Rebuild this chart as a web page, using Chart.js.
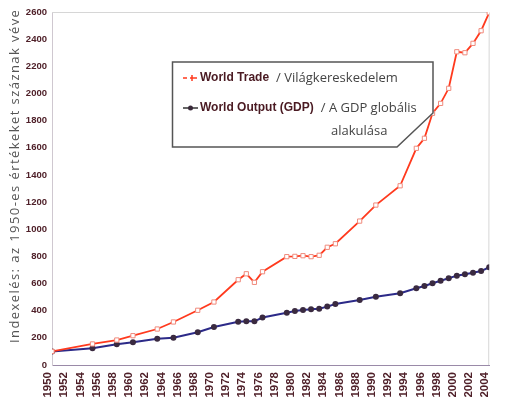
<!DOCTYPE html>
<html>
<head>
<meta charset="utf-8">
<script src="https://cdn.jsdelivr.net/npm/chart.js@4/dist/chart.umd.min.js"></script>
<style>
  html, body { margin: 0; padding: 0; background: #fff; }
  #wrap { position: relative; width: 510px; height: 407px; }
</style>
</head>
<body>
<div id="wrap"><canvas id="chart" width="510" height="407"></canvas></div>
<script>
// years that have a data point (the source skips some years)
const years = [1950, 1955, 1958, 1960, 1963, 1965, 1968, 1970, 1973, 1974, 1975, 1976,
    1979, 1980, 1981, 1982, 1983, 1984, 1985, 1988, 1990, 1993, 1995, 1996, 1997,
    1998, 1999, 2000, 2001, 2002, 2003, 2004];
const worldTrade = [100, 155, 184, 216, 265, 317, 403, 464, 628, 672, 609, 687,
    798, 800, 805, 798, 808, 867, 893, 1060, 1178, 1320, 1596, 1670, 1854,
    1927, 2038, 2307, 2300, 2369, 2462, 2595];
const worldOutput = [100, 123, 152, 167, 194, 201, 241, 280, 318, 322, 322, 350,
    385, 398, 405, 410, 415, 430, 449, 479, 503, 528, 565, 582, 602,
    621, 639, 658, 668, 680, 692, 720];

const yAxisTitle = 'Indexelés: az 1950-es értékeket száznak véve';
const legendItems = [
    { bold: 'World Trade', rest: ['/ Világkereskedelem'] },
    { bold: 'World Output (GDP)', rest: ['/ A GDP globális', 'alakulása'] }
];

const tickColor = '#4f2029';
const tradeColor = '#ff3a1e';
const outputColor = '#2c2a88';

function points(values) {
    return years.map((y, i) => ({ x: y, y: values[i] }));
}

// frame, y title and the custom legend box
const decorations = {
    id: 'decorations',
    beforeDatasetsDraw(chart) {
        const { ctx, chartArea: a } = chart;
        ctx.save();
        ctx.strokeStyle = '#d6d6d6';
        ctx.lineWidth = 1;
        ctx.beginPath();
        ctx.moveTo(a.left, a.top + 0.5);
        ctx.lineTo(a.right, a.top + 0.5);
        ctx.lineTo(a.right - 0.5, a.bottom);
        ctx.stroke();
        ctx.restore();
    },
    afterDraw(chart) {
        const ctx = chart.ctx;
        ctx.save();

        // y axis title, stretched to the length used in the source
        ctx.font = '13px "Open Sans", sans-serif';
        ctx.fillStyle = '#555';
        const w = ctx.measureText(yAxisTitle).width;
        if ('letterSpacing' in ctx) {
            ctx.letterSpacing = ((333 - w) / (yAxisTitle.length - 1)).toFixed(2) + 'px';
        }
        ctx.translate(15, 343);
        ctx.rotate(-Math.PI / 2);
        ctx.textAlign = 'left';
        ctx.textBaseline = 'middle';
        ctx.fillText(yAxisTitle, 0, 0);
        ctx.setTransform(1, 0, 0, 1, 0, 0);
        if ('letterSpacing' in ctx) ctx.letterSpacing = '0px';

        // legend box with its cut corner
        ctx.fillStyle = '#fff';
        ctx.strokeStyle = '#555';
        ctx.lineWidth = 1.5;
        ctx.beginPath();
        ctx.moveTo(172.5, 62);
        ctx.lineTo(433, 62);
        ctx.lineTo(433, 113);
        ctx.lineTo(397, 147);
        ctx.lineTo(172.5, 147);
        ctx.closePath();
        ctx.fill();
        ctx.stroke();

        // markers
        ctx.lineWidth = 1.5;
        ctx.strokeStyle = tradeColor;
        ctx.beginPath();
        ctx.moveTo(183, 78); ctx.lineTo(187, 78);
        ctx.moveTo(190, 78); ctx.lineTo(197, 78);
        ctx.moveTo(192, 75); ctx.lineTo(192, 81);
        ctx.stroke();
        ctx.strokeStyle = '#333';
        ctx.beginPath();
        ctx.moveTo(183, 108); ctx.lineTo(198, 108);
        ctx.stroke();
        ctx.fillStyle = '#3a2a3a';
        ctx.beginPath();
        ctx.arc(190.5, 108, 2.5, 0, Math.PI * 2);
        ctx.fill();

        // texts
        ctx.textBaseline = 'middle';
        ctx.textAlign = 'left';
        const rows = [78, 108];
        legendItems.forEach((item, i) => {
            ctx.font = 'bold 12px "Liberation Sans", Arial, sans-serif';
            ctx.fillStyle = '#4a1a22';
            ctx.fillText(item.bold, 200, rows[i]);
            const bw = ctx.measureText(item.bold).width;
            ctx.font = '13px "Open Sans", sans-serif';
            ctx.fillStyle = '#444';
            ctx.fillText(item.rest[0], 200 + bw + 7, rows[i]);
            if (item.rest[1]) {
                ctx.fillText(item.rest[1], 331, rows[i] + 23);
            }
        });
        ctx.restore();
    }
};

new Chart(document.getElementById('chart'), {
    type: 'line',
    data: {
        datasets: [
            {
                label: 'World Trade',
                data: points(worldTrade),
                borderColor: tradeColor,
                borderWidth: 1.8,
                pointStyle: 'rect',
                pointRadius: 3,
                pointBackgroundColor: '#fff',
                pointBorderColor: '#f08a7c',
                pointBorderWidth: 1,
                tension: 0
            },
            {
                label: 'World Output (GDP)',
                data: points(worldOutput),
                borderColor: outputColor,
                borderWidth: 2,
                pointStyle: 'circle',
                pointRadius: 3,
                pointBackgroundColor: '#3a2a40',
                pointBorderColor: '#3a2a40',
                pointBorderWidth: 0,
                tension: 0
            }
        ]
    },
    options: {
        responsive: false,
        animation: false,
        layout: { padding: { top: 12, right: 2, left: 0, bottom: 0 } },
        plugins: {
            legend: { display: false },
            tooltip: { enabled: false }
        },
        scales: {
            x: {
                type: 'linear',
                min: 1950,
                max: 2004,
                grid: { display: false, drawTicks: false },
                border: { display: true, color: '#9a8aa8', dash: [2, 2], width: 1 },
                ticks: {
                    stepSize: 2,
                    autoSkip: false,
                    minRotation: 90,
                    maxRotation: 90,
                    padding: 7,
                    labelOffset: -4,
                    color: tickColor,
                    font: { family: 'Arial, "Liberation Sans", sans-serif', size: 11.5, weight: 'bold' },
                    callback: v => String(v)
                },
                afterFit(scale) { scale.height = 42; }
            },
            y: {
                min: 0,
                max: 2600,
                grid: { display: false, drawTicks: false },
                border: { display: true, color: '#cfc8d0', dash: [2, 2], width: 1 },
                ticks: {
                    stepSize: 200,
                    padding: 5,
                    color: tickColor,
                    font: { family: 'Arial, "Liberation Sans", sans-serif', size: 9.5, weight: 'bold' },
                    callback: v => String(v)
                },
                afterFit(scale) { scale.width = 52; }
            }
        }
    },
    plugins: [decorations]
});
</script>
</body>
</html>
